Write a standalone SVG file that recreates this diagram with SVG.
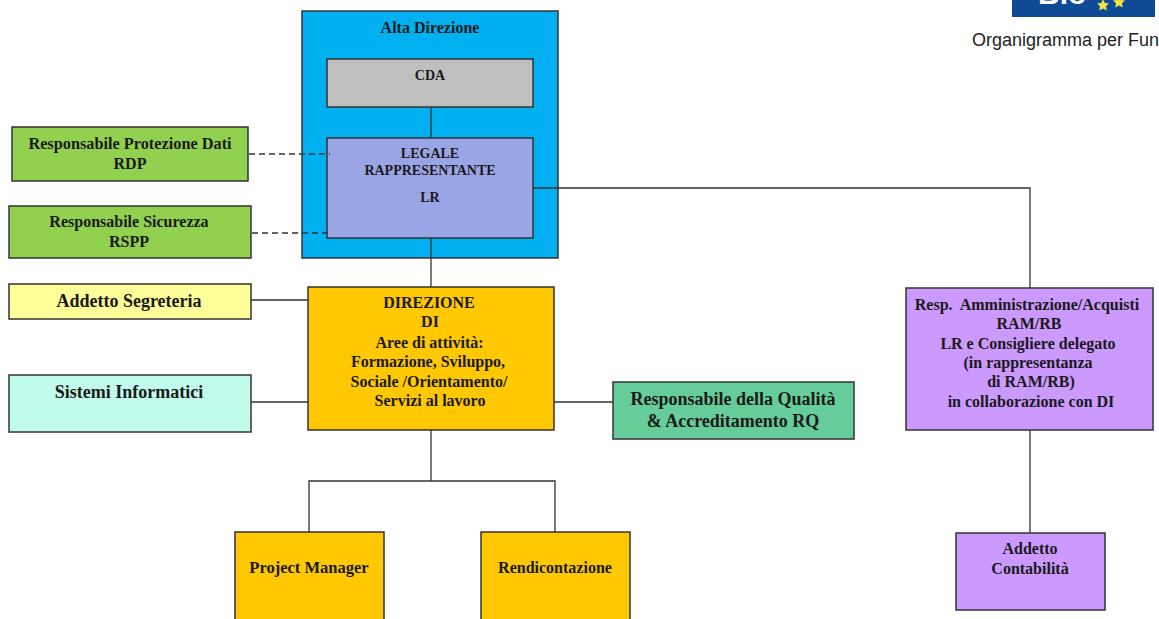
<svg xmlns="http://www.w3.org/2000/svg" width="1159" height="619" viewBox="0 0 1159 619">
<style>
.b{stroke:#333;stroke-width:1.5}
.t{font-family:"Liberation Serif",serif;font-weight:bold;font-size:16px;fill:#1a1a1a;text-anchor:middle}
.s{font-size:14px}
.l{font-size:18px}
.c{fill:none;stroke:#333;stroke-width:1.3}
.d{stroke-dasharray:6 4}
</style>
<rect width="1159" height="619" fill="#fff"/>
<g id="logo"><path d="M1012 0V17H1155V0Z" fill="#0f4a96"/><text x="1038" y="4" style="font-family:'Liberation Sans',sans-serif;font-weight:bold;font-size:30px;fill:#fff">Bio</text><path d="M1103 -1L1104.800 3L1109 3.500L1106 6.300L1106.800 10.500L1103 8.400L1099.200 10.500L1100 6.300L1097 3.500L1101.200 3ZM1119 -4L1120.800 0L1125 .5L1122 3.300L1122.800 7.500L1119 5.400L1115.200 7.500L1116 3.300L1113 .5L1117.200 0Z" fill="#f2e33c"/></g>
<text x="972" y="46" style="font-family:'Liberation Sans',sans-serif;font-size:18px;fill:#222">Organigramma per Fun</text>
<g id="alta"><rect class="b" x="302" y="11" width="256" height="247" fill="#00b0f0"/><text class="t" x="430" y="33">Alta Direzione</text></g>
<g id="connectors">
<path class="c" d="M431 107V138M431 238V287M533 188H1030V288M1030 430V533M251 300H308M251 402H308M554 402H613M431 430V481M309 532V481H555V532"/>
</g>
<g id="cda"><rect class="b" x="327" y="59" width="206" height="48" fill="#bfbfbf"/><text class="t s" x="430" y="80">CDA</text></g>
<g id="lr"><rect class="b" x="327" y="138" width="206" height="100" fill="#9aa5e6"/><text class="t s" x="430" y="158">LEGALE</text><text class="t s" x="430" y="175">RAPPRESENTANTE</text><text class="t s" x="430" y="202">LR</text></g>
<g id="dashes"><path class="c d" d="M249 154H330M252 233H330"/></g>
<g id="rdp"><rect class="b" x="12" y="127" width="236" height="54" fill="#92d050"/><text class="t" x="130" y="149" style="font-size:16.300px">Responsabile Protezione Dati</text><text class="t" x="130" y="169">RDP</text></g>
<g id="rspp"><rect class="b" x="9" y="206" width="242" height="52" fill="#92d050"/><text class="t" x="129" y="227">Responsabile Sicurezza</text><text class="t" x="129" y="247">RSPP</text></g>
<g id="seg"><rect class="b" x="9" y="284" width="242" height="35" fill="#ffff99"/><text class="t l" x="129" y="307">Addetto Segreteria</text></g>
<g id="si"><rect class="b" x="9" y="375" width="242" height="57" fill="#c1fbeb"/><text class="t l" x="129" y="398">Sistemi Informatici</text></g>
<g id="di"><rect class="b" x="308" y="287" width="246" height="143" fill="#ffc800"/><text class="t" x="429" y="308">DIREZIONE</text><text class="t" x="430" y="327">DI</text><text class="t" x="429.500" y="348">Aree di attività:</text><text class="t" x="428" y="367">Formazione, Sviluppo,</text><text class="t" x="429" y="387">Sociale /Orientamento/</text><text class="t" x="430" y="406">Servizi al lavoro</text></g>
<g id="rq"><rect class="b" x="613" y="382" width="241" height="57" fill="#66cc99"/><text class="t l" x="733" y="405">Responsabile della Qualità</text><text class="t l" x="733" y="427">&amp; Accreditamento RQ</text></g>
<g id="ram"><rect class="b" x="906" y="288" width="247" height="142" fill="#cc99ff"/><text class="t" x="1027" y="310">Resp.&#160; Amministrazione/Acquisti</text><text class="t" x="1029" y="329">RAM/RB</text><text class="t" x="1028" y="349">LR e Consigliere delegato</text><text class="t" x="1028" y="368">(in rappresentanza</text><text class="t" x="1031" y="387">di RAM/RB)</text><text class="t" x="1031" y="407">in collaborazione con DI</text></g>
<g id="pm"><rect class="b" x="235" y="532" width="149" height="90" fill="#ffc800"/><text class="t" x="309" y="573" style="font-size:16.500px">Project Manager</text></g>
<g id="rend"><rect class="b" x="481" y="532" width="149" height="90" fill="#ffc800"/><text class="t" x="555" y="573">Rendicontazione</text></g>
<g id="cont"><rect class="b" x="956" y="533" width="149" height="77" fill="#cc99ff"/><text class="t" x="1030" y="554">Addetto</text><text class="t" x="1030" y="574">Contabilità</text></g>
</svg>
